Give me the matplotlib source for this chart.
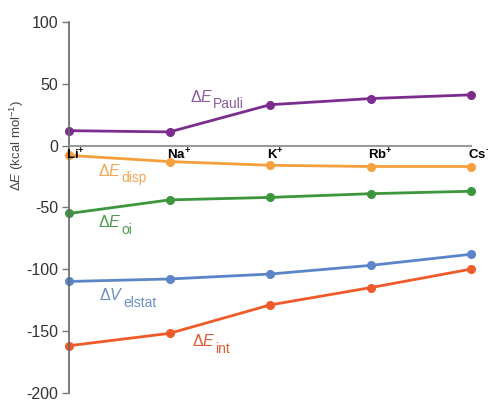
import numpy as np
import matplotlib
matplotlib.use('Agg')
import matplotlib.pyplot as plt
import matplotlib.transforms as mtransforms

plt.rcParams['font.family'] = ['Liberation Sans', 'DejaVu Sans']
plt.rcParams['mathtext.fontset'] = 'custom'
plt.rcParams['mathtext.rm'] = 'Liberation Sans'
plt.rcParams['mathtext.it'] = 'Liberation Sans:italic'
plt.rcParams['mathtext.bf'] = 'Liberation Sans:bold'
plt.rcParams['axes.unicode_minus'] = False

# Cations and energy decomposition terms (kcal/mol)
cations = [r'$\mathbf{Li^{+}}$', r'$\mathbf{Na^{+}}$', r'$\mathbf{K^{+}}$',
           r'$\mathbf{Rb^{+}}$', r'$\mathbf{Cs^{+}}$']
e_pauli = [12, 11, 33, 38, 41]
e_disp = [-8, -13, -16, -17, -17]
e_oi = [-55, -44, -42, -39, -37]
v_elstat = [-110, -108, -104, -97, -88]
e_int = [-162, -152, -129, -115, -100]

x = np.arange(len(cations))

fig = plt.figure(figsize=(4.88, 4.03), dpi=100)
ax = fig.add_axes([0.1414, 0.0256, 0.824, 0.92])
ax.set_axisbelow(False)

series = [
    (e_pauli, '#7b2d8e', '#8e5aa0', r'$\Delta E$', 'Pauli', (1.20, 35.6)),
    (e_disp, '#f5a03c', '#f2a654', r'$\Delta E$', 'disp', (0.29, -24.3)),
    (e_oi, '#3c963c', '#4e9a4e', r'$\Delta E$', 'oi', (0.29, -66.3)),
    (v_elstat, '#5b85c8', '#6a8ec4', r'$\Delta V$', 'elstat', (0.30, -125.3)),
    (e_int, '#f05a28', '#e05a32', r'$\Delta E$', 'int', (1.22, -162.5)),
]

for vals, col, tcol, sym, sub, (tx, ty) in series:
    ax.plot(x, vals, color=col, lw=2, marker='o', ms=5.5, clip_on=False, zorder=2)
    t = ax.text(tx, ty, sym, color=tcol, fontsize=11.5, va='baseline', ha='left')
    ax.annotate(sub, xy=(1, 0), xycoords=t, xytext=(0, -2.5),
                textcoords='offset points', color=tcol, fontsize=10,
                va='baseline', ha='left')

ax.set_xlim(0, 4)
ax.set_ylim(-200, 100)
ax.set_yticks(np.arange(-200, 101, 50))
ax.tick_params(axis='y', direction='out', length=5, width=1, color='#777777',
               labelsize=11.5, labelcolor='#333333', pad=3)

ax.spines['top'].set_visible(False)
ax.spines['right'].set_visible(False)
ax.spines['left'].set_color('#666666')
ax.spines['left'].set_linewidth(1.2)
ax.spines['bottom'].set_position(('data', 0))
ax.spines['bottom'].set_color('#9a9a9a')
ax.spines['bottom'].set_linewidth(1.5)

# category names sit just under the zero line
ax.set_xticks(x)
ax.set_xticklabels(cations, fontsize=9.5)
ax.tick_params(axis='x', length=0, pad=1)
shift = mtransforms.ScaledTranslation(-3 / 100, 0, fig.dpi_scale_trans)
for lbl in ax.get_xticklabels():
    lbl.set_ha('left')
    lbl.set_transform(lbl.get_transform() + shift)

fig.text(17 / 488, 1 - 145 / 403, r'$\Delta E$ (kcal mol$^{-1}$)', rotation=90,
         fontsize=9.5, color='#444444', ha='center', va='center')

fig.savefig('out.png', dpi=100)
